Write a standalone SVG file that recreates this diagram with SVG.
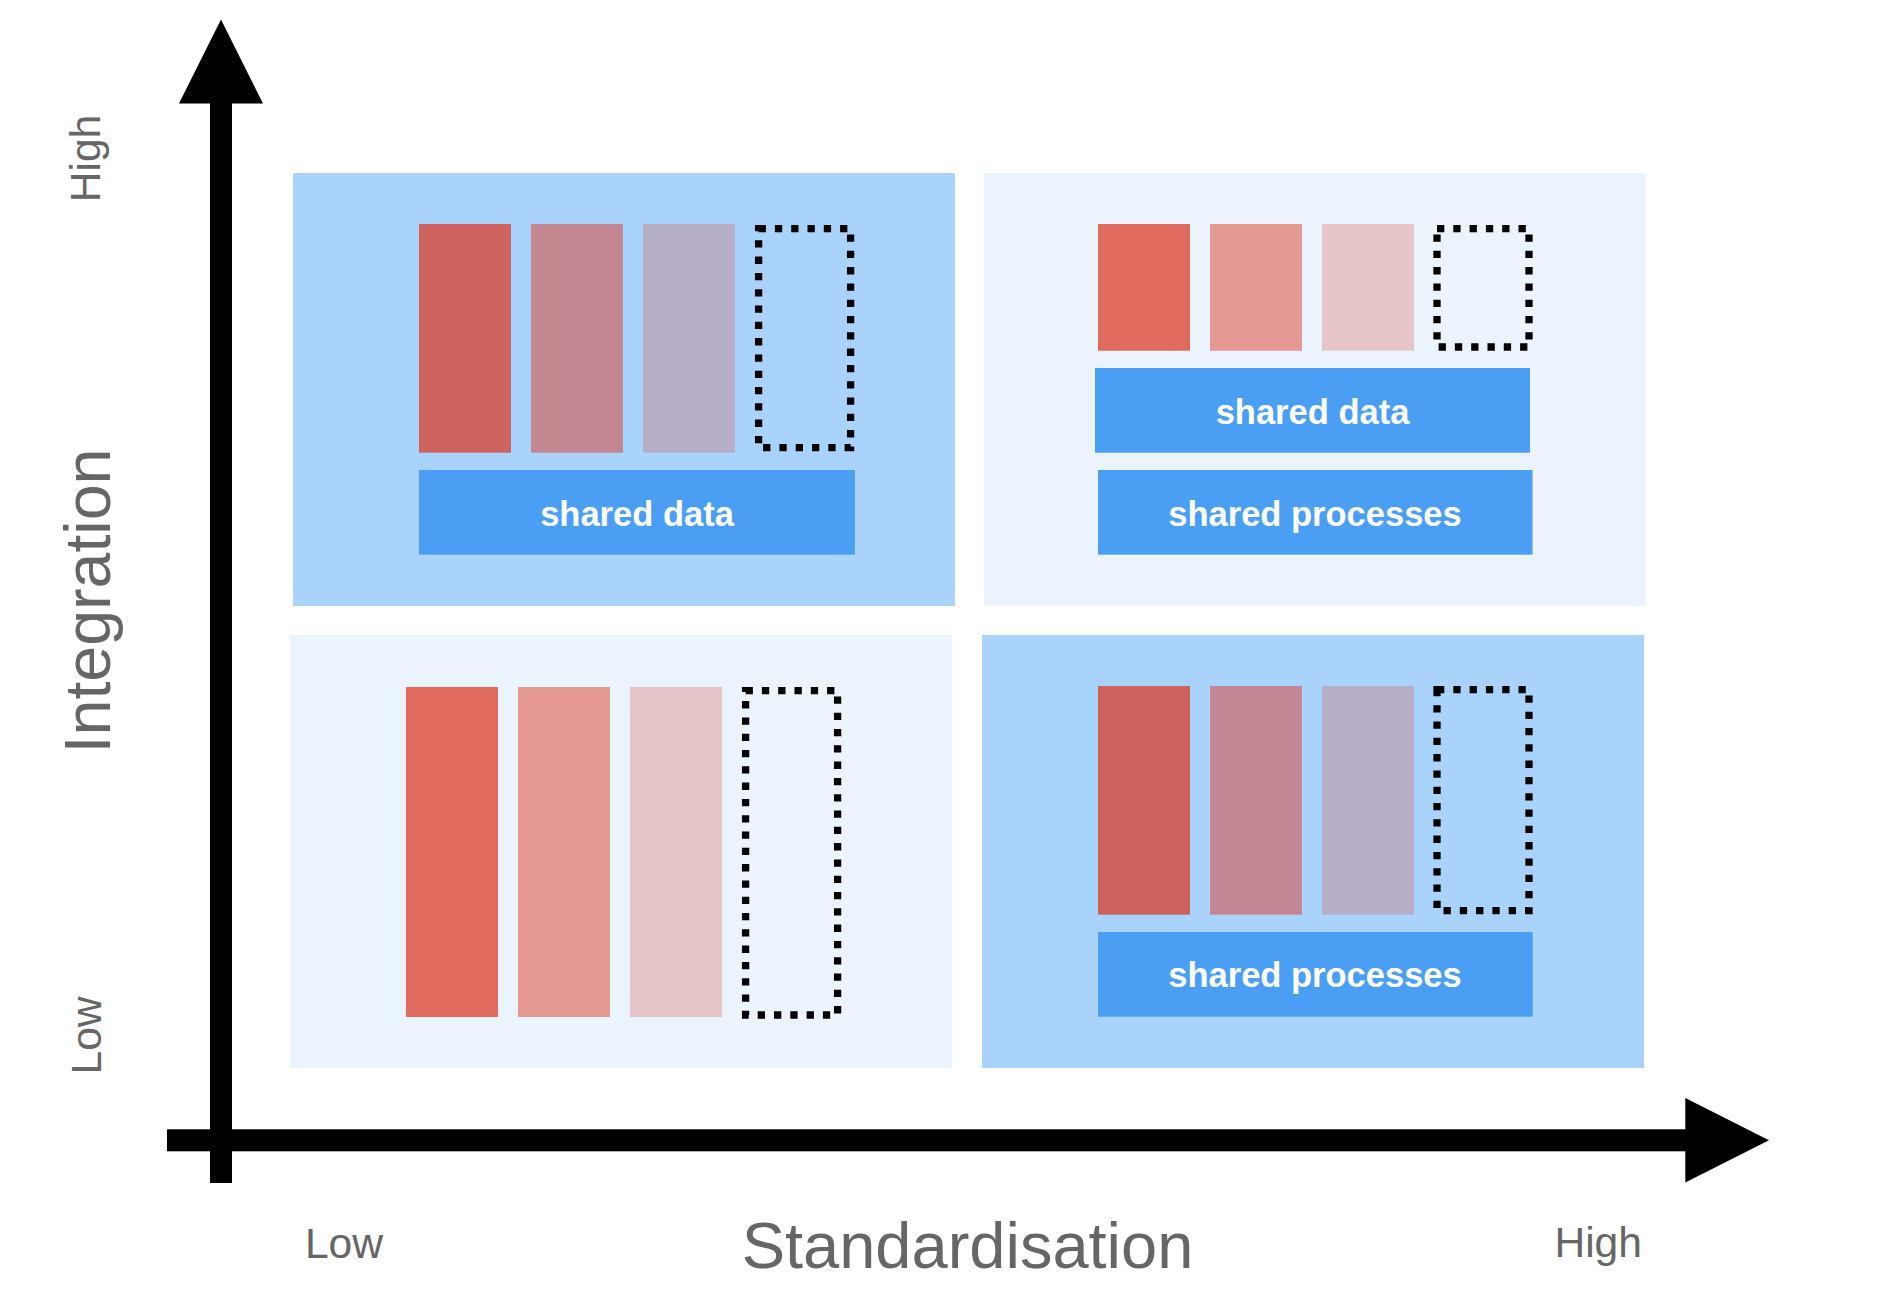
<svg xmlns="http://www.w3.org/2000/svg" width="1898" height="1316" viewBox="0 0 1898 1316">
<style>
.qd{fill:#A9D3FA}
.ql{fill:#EBF3FD}
.b1d{fill:#CE625E}.b2d{fill:#C38791}.b3d{fill:#B6AEC6}
.b1l{fill:#E06A5D}.b2l{fill:#E39892}.b3l{fill:#E5C5C8}
.dash{fill:none;stroke:#000;stroke-width:7.3;stroke-dasharray:7.3 9}
.box{fill:#4A9FF5}
.bt{font-family:"Liberation Sans",Arial,Helvetica,sans-serif;font-weight:bold;font-size:34.5px;fill:#fff;text-anchor:middle}
.ax{font-family:"Liberation Sans",Arial,Helvetica,sans-serif;fill:#666;text-anchor:middle}
</style>
<rect width="1898" height="1316" fill="#fff"/>
<g id="q-tl">
<rect class="qd" x="293" y="173" width="662" height="433"/>
<rect class="b1d" x="419" y="224" width="92" height="228.7"/>
<rect class="b2d" x="531" y="224" width="92" height="228.7"/>
<rect class="b3d" x="643" y="224" width="92" height="228.7"/>
<rect class="dash" x="758.6" y="228.7" width="92" height="219"/>
<rect class="box" x="419" y="470" width="436" height="84.7"/>
<text class="bt" x="637" y="526">shared data</text>
</g>
<g id="q-tr">
<rect class="ql" x="984" y="173" width="662" height="433"/>
<rect class="b1l" x="1098" y="224" width="92" height="126.7"/>
<rect class="b2l" x="1210" y="224" width="92" height="126.7"/>
<rect class="b3l" x="1322" y="224" width="92" height="126.7"/>
<rect class="dash" x="1437" y="228.7" width="92" height="118.3"/>
<rect class="box" x="1095" y="368" width="435" height="84.7"/>
<text class="bt" x="1312.5" y="424">shared data</text>
<rect class="box" x="1098" y="470" width="434.5" height="84.7"/>
<text class="bt" x="1315" y="526">shared processes</text>
</g>
<g id="q-bl">
<rect class="ql" x="290" y="635" width="662" height="433"/>
<rect class="b1l" x="406" y="687" width="92" height="330"/>
<rect class="b2l" x="518" y="687" width="92" height="330"/>
<rect class="b3l" x="630" y="687" width="92" height="330"/>
<rect class="dash" x="745.6" y="690.6" width="92" height="324.4"/>
</g>
<g id="q-br">
<rect class="qd" x="982" y="635" width="662" height="433"/>
<rect class="b1d" x="1098" y="686" width="92" height="228.7"/>
<rect class="b2d" x="1210" y="686" width="92" height="228.7"/>
<rect class="b3d" x="1322" y="686" width="92" height="228.7"/>
<rect class="dash" x="1437" y="689.6" width="92" height="221"/>
<rect class="box" x="1098" y="932" width="434.7" height="84.7"/>
<text class="bt" x="1315" y="987">shared processes</text>
</g>
<g id="axes">
<rect x="210" y="103" width="22" height="1080" fill="#000"/>
<polygon points="221,19.5 263,103.6 179,103.6" fill="#000"/>
<rect x="167" y="1129.3" width="1519" height="22" fill="#000"/>
<polygon points="1769,1140.3 1685.3,1098 1685.3,1182.6" fill="#000"/>
</g>
<g id="labels">
<text class="ax" font-size="42.6" transform="translate(100,158.5) rotate(-90)">High</text>
<text class="ax" font-size="64.5" transform="translate(110,601) rotate(-90)">Integration</text>
<text class="ax" font-size="42.6" transform="translate(100.5,1035.5) rotate(-90)">Low</text>
<text class="ax" font-size="42.6" x="344" y="1257.7">Low</text>
<text class="ax" font-size="65" x="967.5" y="1268">Standardisation</text>
<text class="ax" font-size="42.6" x="1642" y="1256.7" style="text-anchor:end">High</text>
</g>
</svg>
